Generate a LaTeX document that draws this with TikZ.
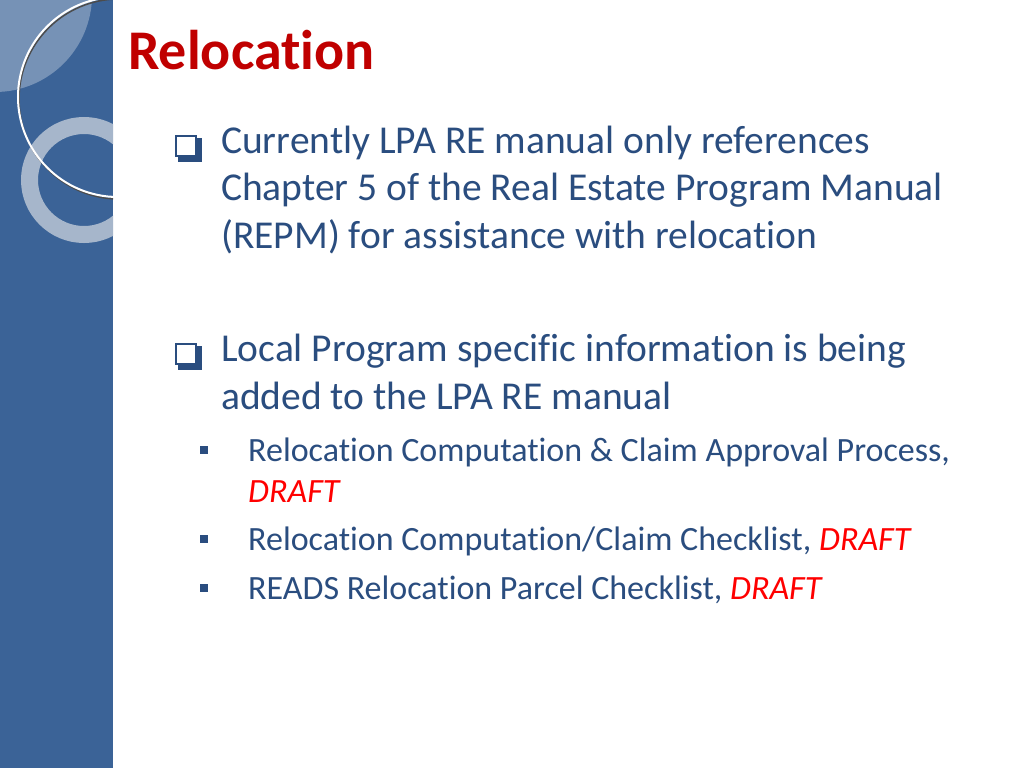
\documentclass[tikz,border=0pt]{standalone}
\usepackage{fontspec}
\setmainfont{Carlito}[Ligatures=NoCommon]
\begin{document}
\begin{tikzpicture}[x=1pt,y=-1pt,
  body/.style={anchor=base west,inner sep=0pt,text=bodyc,font=\fontsize{39.5}{44}\selectfont},
  sub/.style={anchor=base west,inner sep=0pt,text=bodyc,font=\fontsize{34}{38}\selectfont},
  box/.style={draw=bodyc,line width=2.5pt,fill=white,minimum size=20pt,inner sep=0pt},
  sq/.style={fill=bodyc,minimum size=8pt,inner sep=0pt}]
\definecolor{bodyc}{HTML}{2A4D7F}
\definecolor{panel}{HTML}{3B6397}
\definecolor{ringc}{HTML}{A6B6CB}
\definecolor{titlec}{HTML}{C00000}
\useasboundingbox (0,0) rectangle (1024,768);
\fill[white] (0,0) rectangle (1024,768);
\begin{scope}
\clip (0,0) rectangle (113,768);
\fill[panel] (0,0) rectangle (113,768);
\fill[white,opacity=0.3] (-5,-5) circle (97);
\draw[ringc,line width=17pt] (84,180) circle (54.5);
\draw[gray!60!black,line width=1.5pt] (119,99) circle (100);
\draw[white,line width=2pt] (118,97) circle (100);
\end{scope}
\node[anchor=base west,inner sep=0pt,text=titlec,font=\fontsize{56}{60}\selectfont\bfseries] (title) at (128,70) {Relocation};
\fill[bodyc] (178,138) rectangle (202,162);
\node[box] (b1) at (186,146) {};
\node[body] (l1) at (221,153) {Currently LPA RE manual only references};
\node[body] (l2) at (221,200) {Chapter 5 of the Real Estate Program Manual};
\node[body] (l3) at (221,248) {(REPM) for assistance with relocation};
\fill[bodyc] (178,346) rectangle (202,370);
\node[box] (b2) at (186,354) {};
\node[body] (l4) at (221,361) {Local Program specific information is being};
\node[body] (l5) at (221,409) {added to the LPA RE manual};
\node[sq] (s1) at (204,450) {};
\node[sub] (m1) at (248,461) {Relocation Computation \& Claim Approval Process,};
\node[sub,text=red] (m2) at (248,502) {\itshape DRAFT};
\node[sq] (s2) at (204,539) {};
\node[sub] (m3) at (248,550) {Relocation Computation/Claim Checklist, \textcolor{red}{\itshape DRAFT}};
\node[sq] (s3) at (204,588) {};
\node[sub] (m4) at (248,599) {READS Relocation Parcel Checklist, \textcolor{red}{\itshape DRAFT}};
\end{tikzpicture}
\end{document}
